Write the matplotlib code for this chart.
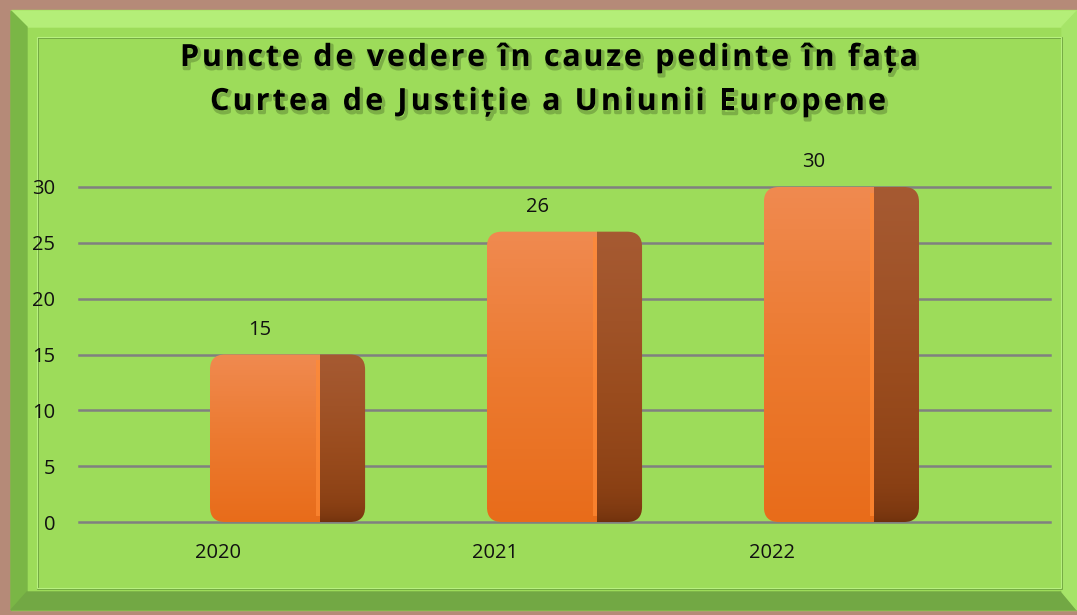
import matplotlib
matplotlib.use("Agg")
import matplotlib.pyplot as plt
import numpy as np
from matplotlib.patches import FancyBboxPatch, Rectangle, Polygon
from matplotlib.colors import LinearSegmentedColormap
import matplotlib.patheffects as pe

# ---- data ----
years = ["2020", "2021", "2022"]
values = [15, 26, 30]
yticks = [0, 5, 10, 15, 20, 25, 30]
title_lines = ["Puncte de vedere în cauze pedinte în fața",
               "Curtea de Justiție a Uniunii Europene"]

W, H = 1077, 615
fig = plt.figure(figsize=(W / 100, H / 100), dpi=100)
fig.patch.set_facecolor("#b58a78")

def fx(px):
    return px / W

def fy(py):
    return 1 - py / H

# ---- frame ----
green = "#9ddc5a"
fig.patches.append(Rectangle((fx(11), fy(610)), fx(1077 - 11), (600) / H,
                             transform=fig.transFigure, color=green, zorder=0))
fig.patches.append(Polygon([(fx(11), fy(11)), (fx(1077), fy(11)), (fx(1062), fy(27)), (fx(27), fy(27))],
                           closed=True, transform=fig.transFigure, color="#b4ee78", zorder=0.1))
fig.patches.append(Polygon([(fx(11), fy(11)), (fx(27), fy(27)), (fx(27), fy(592)), (fx(11), fy(610))],
                           closed=True, transform=fig.transFigure, color="#7ab646", zorder=0.1))
fig.patches.append(Polygon([(fx(11), fy(610)), (fx(27), fy(592)), (fx(1062), fy(592)), (fx(1077), fy(610))],
                           closed=True, transform=fig.transFigure, color="#72a844", zorder=0.1))
fig.patches.append(Polygon([(fx(1077), fy(11)), (fx(1062), fy(27)), (fx(1062), fy(592)), (fx(1077), fy(610))],
                           closed=True, transform=fig.transFigure, color="#a6e468", zorder=0.1))
fig.patches.append(Rectangle((fx(38), fy(589)), fx(1062 - 38), (589 - 38) / H,
                             transform=fig.transFigure, facecolor="none",
                             edgecolor="#6a9e3c", lw=1.2, zorder=0.2))
fig.patches.append(Rectangle((fx(37), fy(588)), fx(1061 - 37), (588 - 37) / H,
                             transform=fig.transFigure, facecolor="none",
                             edgecolor="#b8f080", lw=0.8, zorder=0.2))

# ---- title with letter spacing ----
renderer = fig.canvas.get_renderer()
tprops = dict(fontsize=22, fontweight="bold", family=["Open Sans", "DejaVu Sans"], color="black")

def text_w(s):
    t = fig.text(0, 0, s, **tprops)
    w = t.get_window_extent(renderer).width
    t.remove()
    return w

base = text_w("HH")
def adv(c):
    return text_w("H" + c + "H") - base

title_targets = [(180, 918, 58), (210, 886, 102)]
for line, (x0, x1, yc) in zip(title_lines, title_targets):
    advs = [adv(c) for c in line]
    natural = sum(advs)
    extra = (x1 - x0 - natural) / (len(line) - 1)
    cx = (x0 + x1) / 2 - (natural + extra * (len(line) - 1)) / 2
    for c, a in zip(line, advs):
        if c != " ":
            t = fig.text(fx(cx), fy(yc), c, ha="left", va="center", zorder=5, **tprops)
            t.set_path_effects([pe.SimpleLineShadow(offset=(1.2, -1.8), shadow_color="#304a18",
                                                    alpha=0.3, linewidth=2.5),
                                pe.Normal()])
        cx += a + extra

# ---- axes ----
ax = fig.add_axes([fx(79), fy(522), fx(1050 - 79), (522 - 187) / H])
ax.set_zorder(3)
ax.set_facecolor("none")
x = np.arange(len(years))
ax.set_xlim(-0.502, 3.004)
ax.set_ylim(0, 30)
ax.set_yticks(yticks)
ax.set_xticks(x)
ax.set_xticklabels(years)
for s in ax.spines.values():
    s.set_visible(False)
ax.tick_params(axis="both", length=0, labelsize=14.5, labelcolor="#111111")
ax.tick_params(axis="y", pad=17)
ax.tick_params(axis="x", pad=15)
for lab in ax.get_xticklabels() + ax.get_yticklabels():
    lab.set_family("Open Sans")
ax.grid(axis="y", color="#808080", lw=1.8, zorder=1)
for gl in ax.get_ygridlines():
    gl.set_clip_on(False)
ax.set_axisbelow(True)

f0, f1, s1 = -0.029, 0.368, 0.531
px_per_x = (1050 - 79) / 3.506
px_per_y = (522 - 187) / 30.0
r_px = 15
rx = r_px / px_per_x
ry = r_px / px_per_y

front_cmap = LinearSegmentedColormap.from_list("f", ["#e86c1a", "#ec7a30", "#f08a50"])
side_cmap = LinearSegmentedColormap.from_list("s", ["#6e300c", "#8a4014", "#9a4c1e", "#a65a32"])

for xi, v in zip(x, values):
    left = xi + f0
    wtot = s1 - f0
    patch = FancyBboxPatch((left, 0), wtot, v,
                           boxstyle=f"round,pad=0,rounding_size={rx}",
                           mutation_aspect=ry / rx,
                           facecolor="none", edgecolor="none", zorder=3)
    ax.add_patch(patch)
    grad = np.linspace(0, 1, 256).reshape(-1, 1)
    im = ax.imshow(grad, cmap=front_cmap, aspect="auto", origin="lower",
                   extent=(left, xi + f1, 0, v), zorder=3)
    im.set_clip_path(patch)
    sg = np.linspace(0, 1, 256) ** 0.5
    sg = np.tile(sg.reshape(-1, 1), (1, 8))
    im2 = ax.imshow(sg, cmap=side_cmap, aspect="auto", origin="lower",
                    extent=(xi + f1, xi + s1, 0, v), zorder=3)
    im2.set_clip_path(patch)
    seam = Rectangle((xi + f1 - 0.014, 0.5), 0.014, v - 1.0, facecolor="#ff8a35",
                     edgecolor="none", alpha=0.7, zorder=4)
    ax.add_patch(seam)
    seam.set_clip_path(patch)
    ax.text(xi + 0.152, v + 2.2, str(v), ha="center", va="center",
            fontsize=14.5, family="Open Sans", color="#111111", zorder=5, clip_on=False)

fig.savefig("out.png", dpi=100, facecolor=fig.get_facecolor())
